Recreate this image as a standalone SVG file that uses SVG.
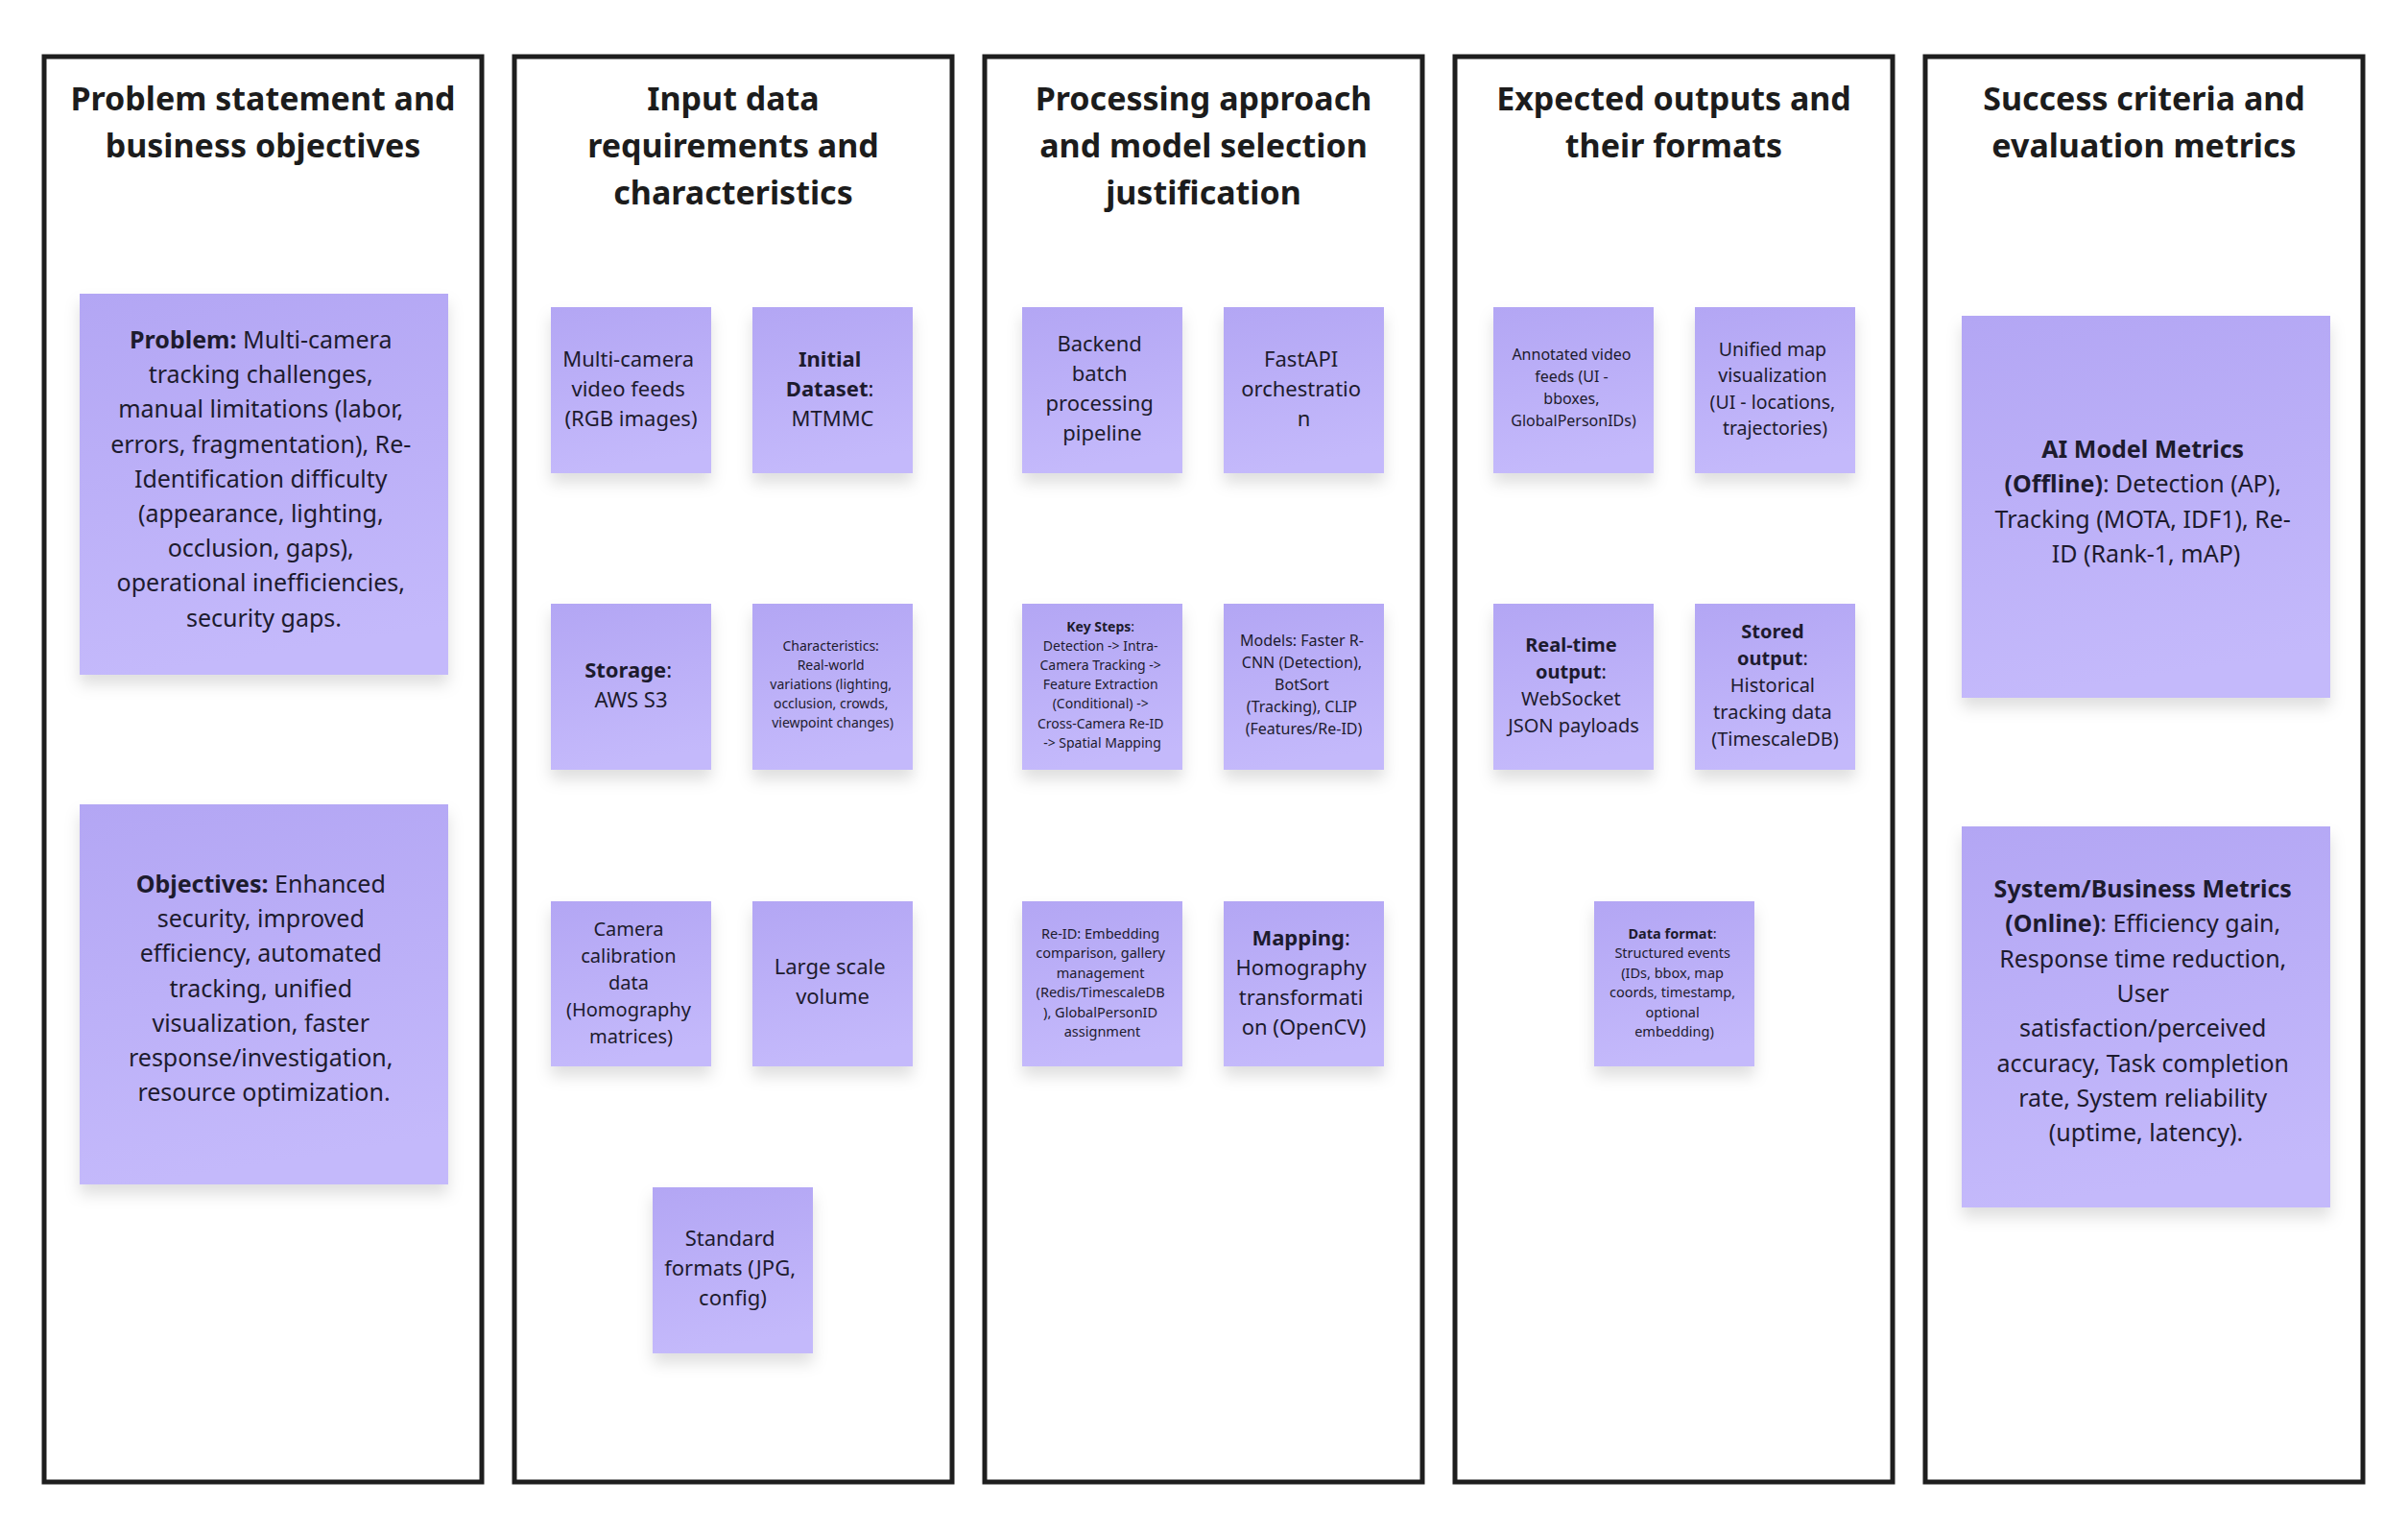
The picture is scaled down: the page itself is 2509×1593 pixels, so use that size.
<svg xmlns="http://www.w3.org/2000/svg" width="2509" height="1593" viewBox="0 0 2509 1593">
<defs>
<linearGradient id="stickyGrad" x1="0" y1="0" x2="0.15" y2="1">
<stop offset="0" stop-color="#b3a6f4"/>
<stop offset="1" stop-color="#c4b9fb"/>
</linearGradient>
<filter id="shadow" x="-20%" y="-20%" width="140%" height="150%">
<feDropShadow dx="0" dy="10" stdDeviation="8" flood-color="#000" flood-opacity="0.13"/>
</filter>
</defs>
<style>
.frame{fill:#ffffff;stroke:#1e1e1e;stroke-width:5}
.title{font-family:"Noto Sans","Open Sans",sans-serif;font-weight:700;font-size:34px;fill:#1c1c1c;text-anchor:middle}
.sticky{fill:url(#stickyGrad);filter:url(#shadow)}
.t{font-family:"Noto Sans","Open Sans",sans-serif;fill:#1d1b2e;text-anchor:middle}
.b{font-weight:700}
.f25{font-size:25px}
.f22{font-size:22px}
.f20{font-size:20px}
.f19{font-size:19.5px}
.f16{font-size:16px}
.f14{font-size:14px}
.f145{font-size:14.5px}
</style>
<rect x="0" y="0" width="2509" height="1593" fill="#ffffff"/>

<g id="frames">
<g id="frame-problem">
<rect class="frame" x="46" y="59" width="456" height="1485"/>
<text class="title" x="274" y="115">Problem statement and</text>
<text class="title" x="274" y="164">business objectives</text>
</g>
<g id="frame-input">
<rect class="frame" x="536" y="59" width="456" height="1485"/>
<text class="title" x="764" y="115">Input data</text>
<text class="title" x="764" y="164">requirements and</text>
<text class="title" x="764" y="213">characteristics</text>
</g>
<g id="frame-processing">
<rect class="frame" x="1026" y="59" width="456" height="1485"/>
<text class="title" x="1254" y="115">Processing approach</text>
<text class="title" x="1254" y="164">and model selection</text>
<text class="title" x="1254" y="213">justification</text>
</g>
<g id="frame-outputs">
<rect class="frame" x="1516" y="59" width="456" height="1485"/>
<text class="title" x="1744" y="115">Expected outputs and</text>
<text class="title" x="1744" y="164">their formats</text>
</g>
<g id="frame-success">
<rect class="frame" x="2006" y="59" width="456" height="1485"/>
<text class="title" x="2234" y="115">Success criteria and</text>
<text class="title" x="2234" y="164">evaluation metrics</text>
</g>
</g>

<g id="connectors"></g>

<!-- Column 1 -->
<g id="note-problem">
<rect class="sticky" x="83" y="306" width="384" height="397"/>
<text class="t f25">
<tspan x="275" y="363"><tspan class="b">Problem:</tspan> Multi-camera</tspan>
<tspan x="275" y="399.2">tracking challenges,</tspan>
<tspan x="275" y="435.4">manual limitations (labor,</tspan>
<tspan x="275" y="471.6">errors, fragmentation), Re-</tspan>
<tspan x="275" y="507.8">Identification difficulty</tspan>
<tspan x="275" y="544">(appearance, lighting,</tspan>
<tspan x="275" y="580.2">occlusion, gaps),</tspan>
<tspan x="275" y="616.4">operational inefficiencies,</tspan>
<tspan x="275" y="652.6">security gaps.</tspan>
</text>
</g>
<g id="note-objectives">
<rect class="sticky" x="83" y="838" width="384" height="396"/>
<text class="t f25">
<tspan x="275" y="930"><tspan class="b">Objectives:</tspan> Enhanced</tspan>
<tspan x="275" y="966.2">security, improved</tspan>
<tspan x="275" y="1002.4">efficiency, automated</tspan>
<tspan x="275" y="1038.6">tracking, unified</tspan>
<tspan x="275" y="1074.8">visualization, faster</tspan>
<tspan x="275" y="1111">response/investigation,</tspan>
<tspan x="275" y="1147.2">resource optimization.</tspan>
</text>
</g>

<!-- Column 2 -->
<g id="note-video-feeds">
<rect class="sticky" x="574" y="320" width="167" height="173"/>
<text class="t f22">
<tspan x="657.5" y="381.5">Multi-camera</tspan>
<tspan x="657.5" y="412.5">video feeds</tspan>
<tspan x="657.5" y="443.5">(RGB images)</tspan>
</text>
</g>
<g id="note-dataset">
<rect class="sticky" x="784" y="320" width="167" height="173"/>
<text class="t f22">
<tspan x="867.5" y="381.5" class="b">Initial</tspan>
<tspan x="867.5" y="412.5"><tspan class="b">Dataset</tspan>:</tspan>
<tspan x="867.5" y="443.5">MTMMC</tspan>
</text>
</g>
<g id="note-storage">
<rect class="sticky" x="574" y="629" width="167" height="173"/>
<text class="t f22">
<tspan x="657.5" y="706"><tspan class="b">Storage</tspan>:</tspan>
<tspan x="657.5" y="737">AWS S3</tspan>
</text>
</g>
<g id="note-characteristics">
<rect class="sticky" x="784" y="629" width="167" height="173"/>
<text class="t f14">
<tspan x="867.5" y="677.5">Characteristics:</tspan>
<tspan x="867.5" y="697.7">Real-world</tspan>
<tspan x="867.5" y="717.9">variations (lighting,</tspan>
<tspan x="867.5" y="738.1">occlusion, crowds,</tspan>
<tspan x="867.5" y="758.3">viewpoint changes)</tspan>
</text>
</g>
<g id="note-calibration">
<rect class="sticky" x="574" y="939" width="167" height="172"/>
<text class="t f20">
<tspan x="657.5" y="974.5">Camera</tspan>
<tspan x="657.5" y="1002.5">calibration</tspan>
<tspan x="657.5" y="1030.5">data</tspan>
<tspan x="657.5" y="1058.5">(Homography</tspan>
<tspan x="657.5" y="1086.5">matrices)</tspan>
</text>
</g>
<g id="note-scale">
<rect class="sticky" x="784" y="939" width="167" height="172"/>
<text class="t f22">
<tspan x="867.5" y="1015">Large scale</tspan>
<tspan x="867.5" y="1046">volume</tspan>
</text>
</g>
<g id="note-formats">
<rect class="sticky" x="680" y="1237" width="167" height="173"/>
<text class="t f22">
<tspan x="763.5" y="1298">Standard</tspan>
<tspan x="763.5" y="1329">formats (JPG,</tspan>
<tspan x="763.5" y="1360">config)</tspan>
</text>
</g>

<!-- Column 3 -->
<g id="note-backend">
<rect class="sticky" x="1065" y="320" width="167" height="173"/>
<text class="t f22">
<tspan x="1148.5" y="366">Backend</tspan>
<tspan x="1148.5" y="397">batch</tspan>
<tspan x="1148.5" y="428">processing</tspan>
<tspan x="1148.5" y="459">pipeline</tspan>
</text>
</g>
<g id="note-fastapi">
<rect class="sticky" x="1275" y="320" width="167" height="173"/>
<text class="t f22">
<tspan x="1358.5" y="381.5">FastAPI</tspan>
<tspan x="1358.5" y="412.5">orchestratio</tspan>
<tspan x="1358.5" y="443.5">n</tspan>
</text>
</g>
<g id="note-keysteps">
<rect class="sticky" x="1065" y="629" width="167" height="173"/>
<text class="t f14">
<tspan x="1148.5" y="657.5"><tspan class="b">Key Steps</tspan>:</tspan>
<tspan x="1148.5" y="677.7">Detection -&gt; Intra-</tspan>
<tspan x="1148.5" y="697.9">Camera Tracking -&gt;</tspan>
<tspan x="1148.5" y="718.1">Feature Extraction</tspan>
<tspan x="1148.5" y="738.3">(Conditional) -&gt;</tspan>
<tspan x="1148.5" y="758.5">Cross-Camera Re-ID</tspan>
<tspan x="1148.5" y="778.7">-&gt; Spatial Mapping</tspan>
</text>
</g>
<g id="note-models">
<rect class="sticky" x="1275" y="629" width="167" height="173"/>
<text class="t f16">
<tspan x="1358.5" y="673">Models: Faster R-</tspan>
<tspan x="1358.5" y="696">CNN (Detection),</tspan>
<tspan x="1358.5" y="719">BotSort</tspan>
<tspan x="1358.5" y="742">(Tracking), CLIP</tspan>
<tspan x="1358.5" y="765">(Features/Re-ID)</tspan>
</text>
</g>
<g id="note-reid">
<rect class="sticky" x="1065" y="939" width="167" height="172"/>
<text class="t f145">
<tspan x="1148.5" y="977.5">Re-ID: Embedding</tspan>
<tspan x="1148.5" y="998">comparison, gallery</tspan>
<tspan x="1148.5" y="1018.5">management</tspan>
<tspan x="1148.5" y="1039">(Redis/TimescaleDB</tspan>
<tspan x="1148.5" y="1059.5">), GlobalPersonID</tspan>
<tspan x="1148.5" y="1080">assignment</tspan>
</text>
</g>
<g id="note-mapping">
<rect class="sticky" x="1275" y="939" width="167" height="172"/>
<text class="t f22">
<tspan x="1358.5" y="985"><tspan class="b">Mapping</tspan>:</tspan>
<tspan x="1358.5" y="1016">Homography</tspan>
<tspan x="1358.5" y="1047">transformati</tspan>
<tspan x="1358.5" y="1078">on (OpenCV)</tspan>
</text>
</g>

<!-- Column 4 -->
<g id="note-annotated">
<rect class="sticky" x="1556" y="320" width="167" height="173"/>
<text class="t f16">
<tspan x="1639.5" y="375">Annotated video</tspan>
<tspan x="1639.5" y="398">feeds (UI -</tspan>
<tspan x="1639.5" y="421">bboxes,</tspan>
<tspan x="1639.5" y="444">GlobalPersonIDs)</tspan>
</text>
</g>
<g id="note-map">
<rect class="sticky" x="1766" y="320" width="167" height="173"/>
<text class="t f19">
<tspan x="1849.5" y="370.5">Unified map</tspan>
<tspan x="1849.5" y="398">visualization</tspan>
<tspan x="1849.5" y="425.5">(UI - locations,</tspan>
<tspan x="1849.5" y="453">trajectories)</tspan>
</text>
</g>
<g id="note-realtime">
<rect class="sticky" x="1556" y="629" width="167" height="173"/>
<text class="t f20">
<tspan x="1639.5" y="679" class="b">Real-time</tspan>
<tspan x="1639.5" y="707"><tspan class="b">output</tspan>:</tspan>
<tspan x="1639.5" y="735">WebSocket</tspan>
<tspan x="1639.5" y="763">JSON payloads</tspan>
</text>
</g>
<g id="note-stored">
<rect class="sticky" x="1766" y="629" width="167" height="173"/>
<text class="t f20">
<tspan x="1849.5" y="665" class="b">Stored</tspan>
<tspan x="1849.5" y="693"><tspan class="b">output</tspan>:</tspan>
<tspan x="1849.5" y="721">Historical</tspan>
<tspan x="1849.5" y="749">tracking data</tspan>
<tspan x="1849.5" y="777">(TimescaleDB)</tspan>
</text>
</g>
<g id="note-dataformat">
<rect class="sticky" x="1661" y="939" width="167" height="172"/>
<text class="t f145">
<tspan x="1744.5" y="977.5"><tspan class="b">Data format</tspan>:</tspan>
<tspan x="1744.5" y="998">Structured events</tspan>
<tspan x="1744.5" y="1018.5">(IDs, bbox, map</tspan>
<tspan x="1744.5" y="1039">coords, timestamp,</tspan>
<tspan x="1744.5" y="1059.5">optional</tspan>
<tspan x="1744.5" y="1080">embedding)</tspan>
</text>
</g>

<!-- Column 5 -->
<g id="note-ai-metrics">
<rect class="sticky" x="2044" y="329" width="384" height="398"/>
<text class="t f25">
<tspan x="2236" y="477" class="b">AI Model Metrics</tspan>
<tspan x="2236" y="513"><tspan class="b">(Offline)</tspan>: Detection (AP),</tspan>
<tspan x="2236" y="549.5">Tracking (MOTA, IDF1), Re-</tspan>
<tspan x="2236" y="585.5">ID (Rank-1, mAP)</tspan>
</text>
</g>
<g id="note-system-metrics">
<rect class="sticky" x="2044" y="861" width="384" height="397"/>
<text class="t f25">
<tspan x="2236" y="935" class="b">System/Business Metrics</tspan>
<tspan x="2236" y="971.3"><tspan class="b">(Online)</tspan>: Efficiency gain,</tspan>
<tspan x="2236" y="1007.6">Response time reduction,</tspan>
<tspan x="2236" y="1043.9">User</tspan>
<tspan x="2236" y="1080.2">satisfaction/perceived</tspan>
<tspan x="2236" y="1116.5">accuracy, Task completion</tspan>
<tspan x="2236" y="1152.8">rate, System reliability</tspan>
<tspan x="2236" y="1189.1">(uptime, latency).</tspan>
</text>
</g>
</svg>
